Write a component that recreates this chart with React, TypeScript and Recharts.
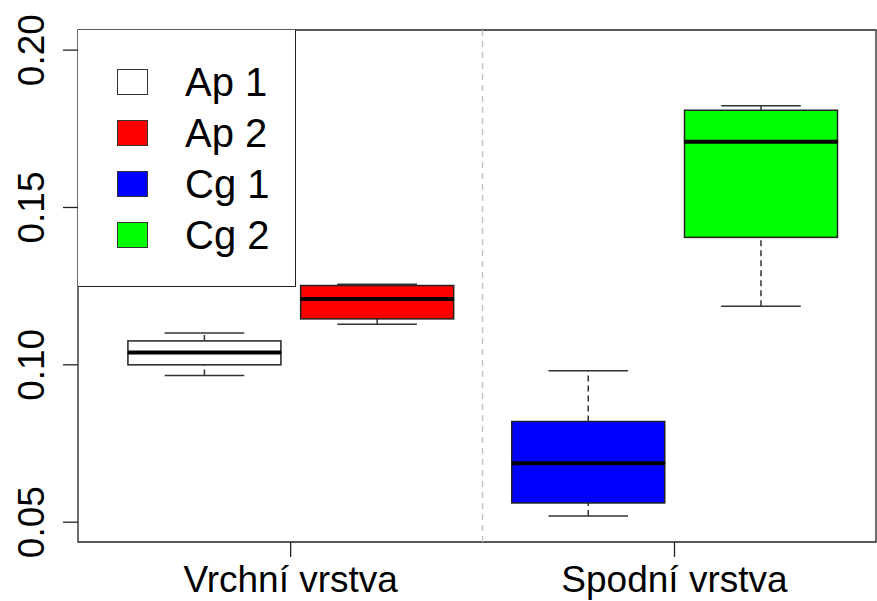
import { ComposedChart, Bar, XAxis, YAxis, ReferenceLine, ReferenceArea } from "recharts";

// boxplot stats
const groupLabels = ["Vrchní vrstva", "Spodní vrstva"];
const groupTicks = [1, 2];
const seriesNames = ["Ap 1", "Ap 2", "Cg 1", "Cg 2"];
const boxPositions = [0.775, 1.225, 1.775, 2.225];
const lowWhisker = [0.0966, 0.1129, 0.052, 0.1186];
const lowerQuartile = [0.1, 0.1146, 0.0561, 0.1405];
const medians = [0.1039, 0.1209, 0.0687, 0.1709];
const upperQuartile = [0.1076, 0.1252, 0.082, 0.1809];
const highWhisker = [0.1101, 0.1256, 0.0981, 0.1823];
const yTicks = [0.05, 0.1, 0.15, 0.2];

const COLORS = ["#ffffff", "#ff0000", "#0000ff", "#00ff00"];
const FONT = "'Liberation Sans', Arial, sans-serif";
const X_DOMAIN: [number, number] = [0.446, 2.525];
const Y_DOMAIN: [number, number] = [0.0437, 0.2064];

const rows = seriesNames.map((name, i) => ({
  name,
  x: boxPositions[i],
  fill: COLORS[i],
  base: lowWhisker[i],
  lowW: lowerQuartile[i] - lowWhisker[i],
  lowBox: medians[i] - lowerQuartile[i],
  highBox: upperQuartile[i] - medians[i],
  highW: highWhisker[i] - upperQuartile[i],
}));

function span(p: any) {
  const top = Math.min(p.y, p.y + p.height);
  const bottom = Math.max(p.y, p.y + p.height);
  return { top, bottom, cx: p.x + p.width / 2 };
}

const Empty = () => <g />;

const LowerWhisker = (p: any) => {
  const { top, bottom, cx } = span(p);
  const cap = p.width * 0.26;
  return (
    <g>
      <line x1={cx} x2={cx} y1={bottom} y2={top} stroke="#333" strokeWidth={1.5} strokeDasharray="6 4" />
      <line x1={cx - cap} x2={cx + cap} y1={bottom} y2={bottom} stroke="#333" strokeWidth={1.5} />
    </g>
  );
};

const UpperWhisker = (p: any) => {
  const { top, bottom, cx } = span(p);
  const cap = p.width * 0.26;
  return (
    <g>
      <line x1={cx} x2={cx} y1={bottom} y2={top} stroke="#333" strokeWidth={1.5} strokeDasharray="6 4" />
      <line x1={cx - cap} x2={cx + cap} y1={top} y2={top} stroke="#333" strokeWidth={1.5} />
    </g>
  );
};

const LowerBox = (p: any) => {
  const { top, bottom } = span(p);
  return <rect x={p.x} y={top} width={p.width} height={bottom - top} fill={p.payload.fill} stroke="#222" strokeWidth={1.5} />;
};

// upper half also draws the median so it sits on top
const UpperBox = (p: any) => {
  const { top, bottom } = span(p);
  return (
    <g>
      <rect x={p.x} y={top} width={p.width} height={bottom - top} fill={p.payload.fill} stroke="#222" strokeWidth={1.5} />
      <line x1={p.x} x2={p.x + p.width} y1={bottom} y2={bottom} stroke="#000" strokeWidth={4} />
    </g>
  );
};

const YTick = (p: any) => {
  const tx = p.x - 19;
  return (
    <text
      x={tx}
      y={p.y}
      transform={`rotate(-90 ${tx} ${p.y})`}
      textAnchor="middle"
      fontSize={37}
      fontFamily={FONT}
      fill="#000"
    >
      {p.payload.value.toFixed(2)}
    </text>
  );
};

const XTick = (p: any) => (
  <text x={p.x} y={p.y + 35} textAnchor="middle" fontSize={37} fontFamily={FONT} fill="#000">
    {groupLabels[groupTicks.indexOf(p.payload.value)]}
  </text>
);

function BoxLegend() {
  return (
    <div
      style={{
        position: "absolute",
        left: 78,
        top: 30,
        width: 218,
        height: 257,
        border: "1.3px solid #222",
        borderTop: "none",
        borderLeft: "none",
        background: "#fff",
        boxSizing: "border-box",
        fontFamily: FONT,
      }}
    >
      {seriesNames.map((name, i) => (
        <div
          key={name}
          style={{
            position: "absolute",
            left: 39,
            top: 51 * i + 30,
            height: 44,
            display: "flex",
            alignItems: "center",
          }}
        >
          <div
            style={{
              width: 31,
              height: 26,
              background: COLORS[i],
              border: "1.5px solid #333",
              boxSizing: "border-box",
            }}
          />
          <span style={{ marginLeft: 37, fontSize: 40, lineHeight: "44px", color: "#000" }}>{name}</span>
        </div>
      ))}
    </div>
  );
}

export default function App() {
  return (
    <div style={{ position: "relative", width: 877, height: 601, background: "#fff" }}>
      <style>{`body{margin:0}`}</style>
      <ComposedChart
        width={877}
        height={601}
        data={rows}
        margin={{ top: 30, right: 1, bottom: 0, left: 0 }}
        barSize={153}
      >
        <XAxis
          dataKey="x"
          type="number"
          domain={X_DOMAIN}
          allowDataOverflow
          ticks={groupTicks}
          axisLine={false}
          tickLine={{ stroke: "#222", strokeWidth: 1.3 }}
          tickSize={15}
          tickMargin={0}
          height={59}
          tick={<XTick />}
        />
        <YAxis
          type="number"
          domain={Y_DOMAIN}
          allowDataOverflow
          ticks={yTicks}
          axisLine={false}
          tickLine={{ stroke: "#222", strokeWidth: 1.3 }}
          tickSize={15}
          tickMargin={0}
          width={78}
          tick={<YTick />}
        />
        <ReferenceLine x={1.5} stroke="#bebebe" strokeDasharray="6 5" strokeWidth={1.3} />
        <Bar dataKey="base" stackId="box" shape={<Empty />} isAnimationActive={false} />
        <Bar dataKey="lowW" stackId="box" shape={<LowerWhisker />} isAnimationActive={false} />
        <Bar dataKey="lowBox" stackId="box" shape={<LowerBox />} isAnimationActive={false} />
        <Bar dataKey="highBox" stackId="box" shape={<UpperBox />} isAnimationActive={false} />
        <Bar dataKey="highW" stackId="box" shape={<UpperWhisker />} isAnimationActive={false} />
        <ReferenceArea
          x1={X_DOMAIN[0]}
          x2={X_DOMAIN[1]}
          y1={Y_DOMAIN[0]}
          y2={Y_DOMAIN[1]}
          fill="none"
          stroke="#222"
          strokeWidth={1.3}
          ifOverflow="visible"
        />
      </ComposedChart>
      <BoxLegend />
    </div>
  );
}
